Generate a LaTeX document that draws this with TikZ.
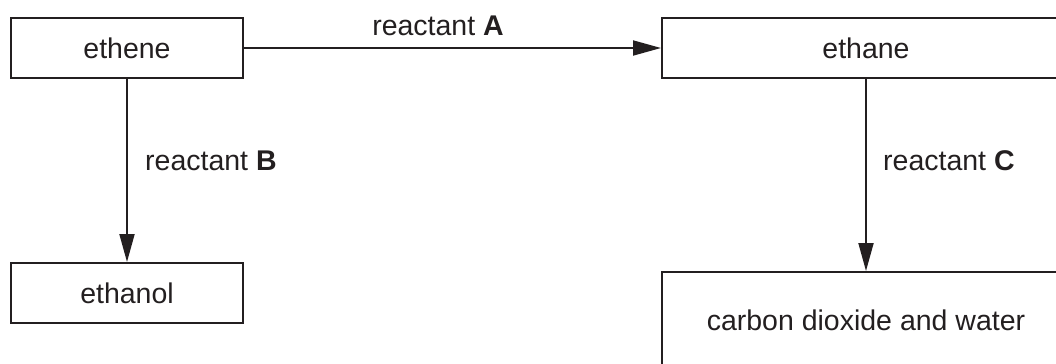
\documentclass[tikz,border=0pt]{standalone}
\usepackage{fontspec}
\setmainfont{Liberation Sans}
\usetikzlibrary{arrows.meta}
\definecolor{ink}{HTML}{231F20}
\begin{document}
\begin{tikzpicture}[x=1bp,y=-1bp,
  every node/.style={font=\fontsize{28.6}{34}\selectfont, text=ink},
  box/.style={draw=ink, line width=2bp, inner sep=0pt, align=center},
  lbl/.style={inner sep=0pt},
  arr/.style={draw=ink, line width=1.9bp, -{Triangle[length=28bp,width=15bp]}}]
\useasboundingbox (0,0) rectangle (1056,363);
\clip (0,0) rectangle (1056,363);
\node[box, minimum width=232bp, minimum height=60bp] (ethene) at (127,48) {ethene};
\node[box, minimum width=408bp, minimum height=60bp] (ethane) at (866,48) {ethane};
\node[box, minimum width=232bp, minimum height=60bp] (ethanol) at (127,293) {ethanol};
\node[box, minimum width=408bp, minimum height=96bp] (co2) at (866,320) {carbon dioxide and water};
\draw[arr] (ethene) -- (ethane);
\draw[arr] (ethene) -- (ethanol);
\draw[arr] (ethane) -- (co2);
\node[lbl, anchor=base] (la) at (438,35) {reactant \textbf{A}};
\node[lbl, anchor=base west] (lb) at (145,170) {reactant \textbf{B}};
\node[lbl, anchor=base west] (lc) at (883,170) {reactant \textbf{C}};
\end{tikzpicture}
\end{document}
